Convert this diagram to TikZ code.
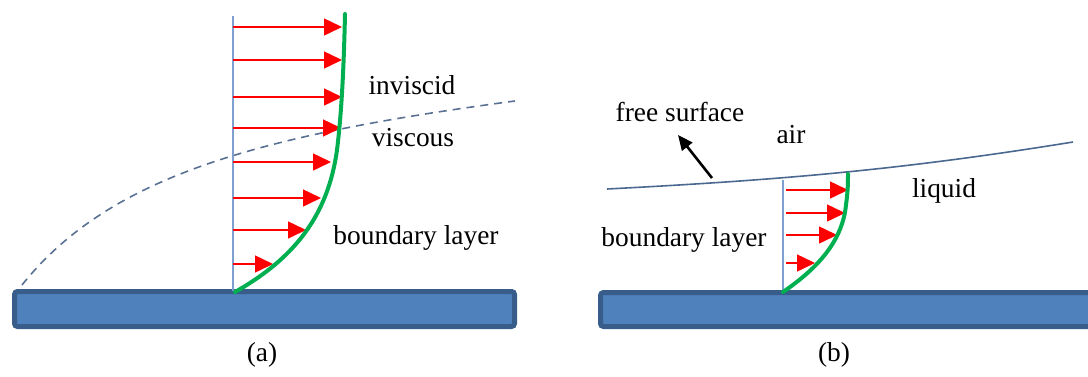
\documentclass[tikz,border=0pt]{standalone}
\usepackage{fontspec}
\setmainfont{Liberation Serif}
\usepackage{tikz}
\usetikzlibrary{arrows.meta, calc}
\definecolor{plateblue}{HTML}{4F81BD}
\definecolor{plateedge}{HTML}{385D8A}
\definecolor{wallblue}{HTML}{7F9FD0}
\definecolor{profilegreen}{HTML}{00B050}
\definecolor{layerdash}{HTML}{5A7194}
\definecolor{surfaceline}{HTML}{4A6890}

\begin{document}
\begin{tikzpicture}[x=0.5pt, y=-0.5pt,
    plate/.style={fill=plateblue, draw=plateedge, line width=2.5pt, rounded corners=1.5pt},
    wall/.style={wallblue, line width=0.6pt},
    vel/.style={red, line width=0.75pt, -{Triangle[length=9pt, width=8.5pt]}},
    profile/.style={profilegreen, line width=2pt},
    label/.style={font=\fontsize{13.7}{16}\selectfont, inner sep=0pt}]
  \useasboundingbox (0,0) rectangle (1088,376);

  % ---------- (a) ----------
  \draw[plate] (14.5,291.5) rectangle (514.5,326.5);

  % Edge of boundary layer
  \draw[layerdash, line width=0.8pt, dash pattern=on 4pt off 3pt]
    (22,285) .. controls (110,175) and (260,135) .. (515,101);

  % Velocity profile
  \draw[wall] (233,16) -- (233,291);
  \foreach \y/\x in {27/342, 60/342, 97/342, 128/341, 162/331, 198/321, 230/306, 264/273}
    \draw[vel] (233,\y) -- (\x,\y);
  \draw[profile, line cap=round] (235,292) .. controls (295,258) and (328,215) .. (337,150)
    .. controls (342,110) and (344,60) .. (345,14);

  % Labels
  \node[label] (inviscid) at (412,85) {inviscid};
  \node[label] (viscous) at (413,138) {viscous};
  \node[label] (layerA) at (416,238) {boundary layer};
  \node[label] (capA) at (262,355) {(a)};

  % ---------- (b) ----------
  \draw[plate] (600.5,292.5) rectangle (1100,326.5);

  % Free surface
  \draw[surfaceline, line width=0.8pt] (607,189) .. controls (780,180) and (900,170) .. (1073,142);
  \coordinate (surfpt) at (712,178);

  % Velocity profile
  \draw[wall] (783,180) -- (783,291);
  \foreach \y/\x in {190/848, 213/845, 235/837, 263/815}
    \draw[vel] (786,\y) -- (\x,\y);
  \draw[profile, line cap=round] (783,292) .. controls (812,272) and (842,245) .. (846,205)
    .. controls (848,190) and (848,182) .. (848,174);

  % Labels
  \node[label] (freesurf) at (680,112) {free surface};
  \node[label] (air) at (791,135) {air};
  \node[label] (liquid) at (944,191) {liquid};
  \node[label] (layerB) at (684,240) {boundary layer};
  \node[label] (capB) at (834,355) {(b)};

  \coordinate (pointer) at (678,135);
  \draw[black, line width=1.3pt, -{Triangle[length=7.5pt, width=6.5pt]}] (surfpt) -- (pointer);
\end{tikzpicture}
\end{document}
